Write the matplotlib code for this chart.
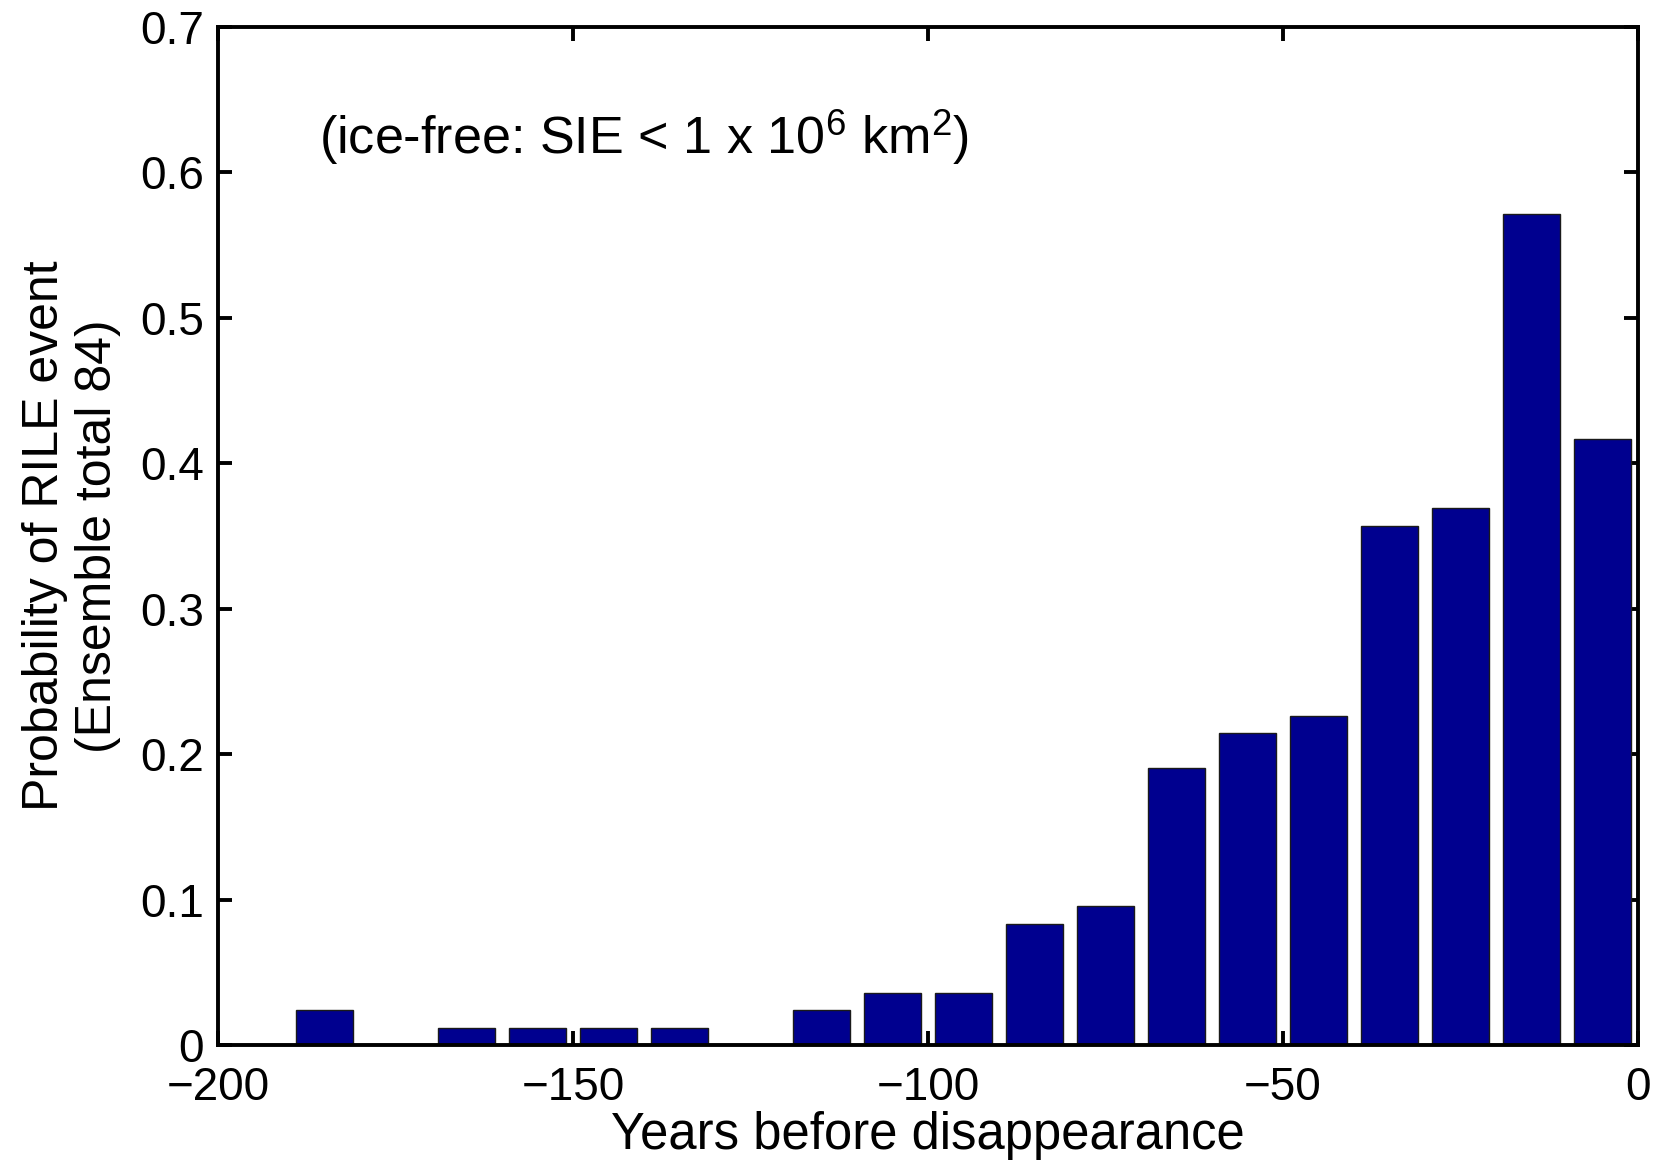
import matplotlib
matplotlib.use("Agg")
import matplotlib.pyplot as plt

plt.rcParams['font.family'] = ['Liberation Sans', 'DejaVu Sans']
plt.rcParams['mathtext.fontset'] = 'custom'
plt.rcParams['mathtext.rm'] = 'Liberation Sans'
plt.rcParams['mathtext.it'] = 'Liberation Sans'

# Bin centres (years before disappearance) and probability per bin
years = [-185, -175, -165, -155, -145, -135, -125, -115, -105, -95,
         -85, -75, -65, -55, -45, -35, -25, -15, -5]
counts = [2, 0, 1, 1, 1, 1, 0, 2, 3, 3,
          7, 8, 16, 18, 19, 30, 31, 48, 35]
ensemble_total = 84
prob = [c / ensemble_total for c in counts]

xticks = [-200, -150, -100, -50, 0]
yticks = [0, 0.1, 0.2, 0.3, 0.4, 0.5, 0.6, 0.7]
yticklabels = ['0', '0.1', '0.2', '0.3', '0.4', '0.5', '0.6', '0.7']

fig = plt.figure(figsize=(16.53, 11.63), dpi=100)
ax = fig.add_axes([218 / 1653, 1 - 1045 / 1163, 1420 / 1653, 1018 / 1163])

ax.bar(years, prob, width=8, color='#00008F', edgecolor='#1a1a1a', linewidth=1.0, zorder=2)

ax.set_xlim(-200, 0)
ax.set_ylim(0, 0.7)
ax.set_xticks(xticks)
ax.set_yticks(yticks)
ax.set_yticklabels(yticklabels)

for s in ax.spines.values():
    s.set_linewidth(2.8)
ax.tick_params(axis='both', which='both', direction='in', length=10, width=2.8,
               top=True, right=True, labelsize=33)
ax.tick_params(axis='x', pad=15)
ax.tick_params(axis='y', pad=10)

ax.set_xlabel('Years before disappearance', fontsize=36.5, labelpad=1)
ax.set_ylabel('Probability of RILE event\n(Ensemble total 84)', fontsize=36,
              labelpad=14, linespacing=1.18)

ax.text(0.071, 0.875, r'(ice-free: SIE < 1 x 10$^{\mathregular{6}}$ km$^{\mathregular{2}}$)',
        transform=ax.transAxes, fontsize=37.5, ha='left', va='baseline')

fig.savefig('out.png', dpi=100)
